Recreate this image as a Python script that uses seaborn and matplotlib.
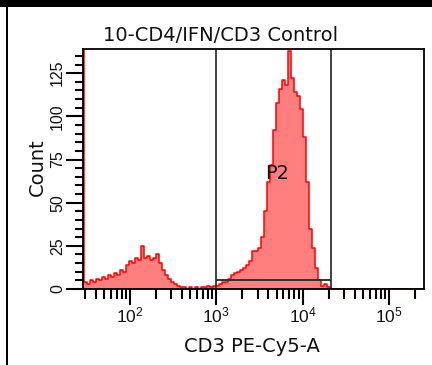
import numpy as np
import pandas as pd
import matplotlib
matplotlib.use("Agg")
import matplotlib.pyplot as plt
import seaborn as sns
from matplotlib.patches import Rectangle
from matplotlib.ticker import FixedLocator, LogLocator, NullFormatter

# ---- data ----
title = "10-CD4/IFN/CD3 Control"
x_label = "CD3 PE-Cy5-A"
y_label = "Count"
gate_name = "P2"
log_start = 1.4322          # log10 of first bin edge
log_width = 0.03476         # bin width in decades
counts = [
    400, 4, 3, 5, 4, 6, 5, 7, 6, 8,
    7, 9, 8, 11, 10, 14, 16, 15, 18, 17,
    25, 18, 19, 17, 18, 20, 15, 11, 8, 6,
    4, 3, 2, 1, 1, 0, 1, 0, 1, 0,
    1, 1, 2, 1, 2, 2, 3, 4, 4, 6,
    8, 9, 10, 11, 12, 14, 16, 22, 22, 24,
    30, 45, 62, 72, 92, 108, 116, 121, 118, 138,
    122, 114, 112, 104, 88, 62, 35, 24, 12, 5,
    2, 3, 1, 0,
] + [0] * 31
gate_lo = 1000
gate_hi = 21600
gate_level = 5.2
label_x = 5050
label_y = 67
y_major = [0, 25, 50, 75, 100, 125]
y_minor = list(range(0, 140, 5))
x_lim = (28.5, 255000)
y_lim = (0, 139)

# ---- build ----
edges_log = log_start + log_width * np.arange(len(counts) + 1)
centers_log = (edges_log[:-1] + edges_log[1:]) / 2
df = pd.DataFrame({"value": 10 ** centers_log, "count": counts})

sns.set_style("white")
plt.rcParams["font.family"] = ["DejaVu Sans"]
plt.rcParams["mathtext.default"] = "regular"

fig = plt.figure(figsize=(4.32, 3.65), dpi=100)
ax = fig.add_axes([83 / 432, 1 - 289 / 365, (424 - 83) / 432, (289 - 49) / 365])

sns.histplot(data=df, x="value", weights="count", bins=list(edges_log), log_scale=True,
             element="step", fill=True, color="red", alpha=0.5,
             linewidth=1.1, ax=ax)

ax.set_xlim(*x_lim)
ax.set_ylim(*y_lim)

# gate
ax.axvline(gate_lo, color="#333333", lw=1.3)
ax.axvline(gate_hi, color="#333333", lw=1.3)
ax.hlines(gate_level, gate_lo, gate_hi, color="#333333", lw=1.4)
ax.text(label_x, label_y, gate_name, ha="center", va="center",
        fontsize=14, color="#111111")

# ticks
ax.xaxis.set_major_locator(FixedLocator([1e2, 1e3, 1e4, 1e5]))
ax.xaxis.set_minor_locator(LogLocator(base=10, subs=np.arange(2, 10), numticks=20))
ax.xaxis.set_minor_formatter(NullFormatter())
ax.set_xticks([1e2, 1e3, 1e4, 1e5])
ax.set_xticklabels(["$10^{2}$", "$10^{3}$", "$10^{4}$", "$10^{5}$"],
                   fontsize=12.5, family="Liberation Sans")
ax.set_yticks(y_major)
ax.set_yticks(y_minor, minor=True)
ax.set_yticklabels([str(v) for v in y_major], rotation=90, va="center",
                   fontsize=11.5, family="Liberation Sans")

ax.tick_params(axis="x", which="major", direction="out", length=11.5, width=1.5,
               pad=0.5, color="black", labelcolor="#111111")
ax.tick_params(axis="x", which="minor", direction="out", length=7, width=1.5,
               color="black")
ax.tick_params(axis="y", which="major", direction="out", length=12, width=1.5,
               pad=1, color="black", labelcolor="#111111")
ax.tick_params(axis="y", which="minor", direction="out", length=6, width=1.5,
               color="black")
ax.tick_params(bottom=True, left=True, which="both")

for s in ax.spines.values():
    s.set_color("black")
    s.set_linewidth(1.3)
    s.set_visible(True)

ax.set_xlabel(x_label, fontsize=14, color="#111111")
ax.set_ylabel(y_label, fontsize=14, color="#111111")
ax.xaxis.set_label_coords(0.494, -0.2375)
ax.xaxis.label.set_va("center")
ax.yaxis.set_label_coords(-0.135, 0.508)
ax.yaxis.label.set_va("center")

fig.text(221 / 432, 1 - 35.5 / 365, title, ha="center", va="center",
         fontsize=14, color="#111111")

# frame of the picture
fig.patches.append(Rectangle((0, 1 - 7 / 365), 1, 7 / 365, transform=fig.transFigure,
                             facecolor="black", edgecolor="none"))
fig.patches.append(Rectangle((6 / 432, 0), 2 / 432, 1, transform=fig.transFigure,
                             facecolor="black", edgecolor="none"))

fig.savefig("out.png", dpi=100)
